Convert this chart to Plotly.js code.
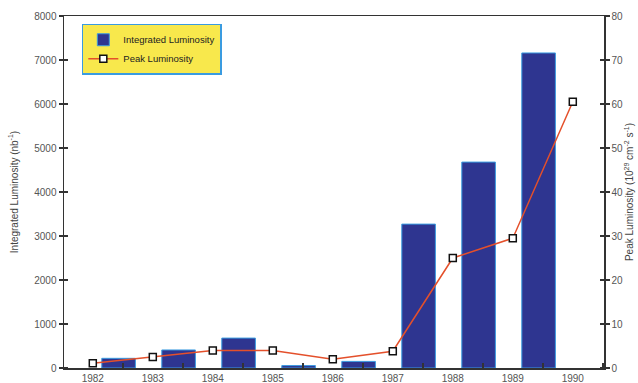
<!DOCTYPE html>
<html>
<head>
<meta charset="utf-8">
<script src="https://cdn.plot.ly/plotly-3.0.1.min.js"></script>
<style>html,body{margin:0;padding:0;background:#fff;}#chart{width:638px;height:383px;}</style>
</head>
<body>
<div id="chart"></div>
<script>
// Data
const barYears = [1982, 1983, 1984, 1985, 1986, 1987, 1988, 1989];
const integratedLumi = [220, 410, 680, 55, 150, 3270, 4680, 7160];
const peakYears = [1982, 1983, 1984, 1985, 1986, 1987, 1988, 1989, 1990];
const peakLumi = [1.1, 2.5, 4.0, 4.0, 2.0, 3.8, 25.0, 29.5, 60.5];
const yearLabels = ['1982', '1983', '1984', '1985', '1986', '1987', '1988', '1989', '1990'];
const leftTicks = [0, 1000, 2000, 3000, 4000, 5000, 6000, 7000, 8000];
const rightTicks = [0, 10, 20, 30, 40, 50, 60, 70, 80];

const FONT = "Liberation Sans Narrow, Arial Narrow, Liberation Sans, Arial, sans-serif";
const AX = '#333333';
const XR = [1981.52, 1990.52];
// tick marks sit midway between year labels (under the bars)
const xTickPos = peakYears.map(y => y + 0.5);

const traces = [
  {
    type: 'bar', name: 'Integrated Luminosity',
    x: barYears, y: integratedLumi,
    yaxis: 'y',
    offset: 0.15, width: 0.56,
    marker: {color: '#2e3590', line: {color: '#3a9be0', width: 1}}
  },
  {
    type: 'scatter', mode: 'lines+markers', name: 'Peak Luminosity',
    x: peakYears, y: peakLumi,
    yaxis: 'y2',
    line: {color: '#e4502b', width: 1.5},
    marker: {symbol: 'square', size: 7, color: '#ffffff', line: {color: '#111111', width: 1.5}}
  }
];

const layout = {
  width: 638, height: 383,
  margin: {l: 64, r: 34, t: 16, b: 15},
  paper_bgcolor: '#ffffff', plot_bgcolor: '#ffffff',
  font: {family: FONT, size: 10, color: '#555555'},
  showlegend: true,
  legend: {
    x: 0.033, y: 0.978, xanchor: 'left', yanchor: 'top',
    bgcolor: '#f8e84c', bordercolor: '#3a9be0', borderwidth: 1.5,
    font: {family: FONT, size: 9.5, color: '#222222'},
    tracegroupgap: 0, itemwidth: 30
  },
  xaxis: {
    range: XR, tickvals: xTickPos, ticktext: yearLabels,
    ticks: 'inside', ticklen: 5, tickwidth: 1.5, tickcolor: AX,
    ticklabelshift: -30, ticklabelstandoff: 0,
    showgrid: false, zeroline: false,
    showline: true, linecolor: AX, linewidth: 1.5, mirror: true,
    tickfont: {family: FONT, size: 10, color: '#555555'}
  },
  yaxis: {
    range: [0, 8000], tickvals: leftTicks, ticks: 'outside', ticklen: 4, tickwidth: 1.5, tickcolor: AX,
    minor: {tickvals: leftTicks.map(v => v + 1), ticks: 'inside', ticklen: 4, tickwidth: 1.5, tickcolor: AX, showgrid: false},
    showgrid: false, zeroline: false, showline: true, linecolor: AX, linewidth: 1.5,
    tickfont: {family: FONT, size: 10, color: '#555555'},
    title: {text: 'Integrated Luminosity (nb<sup>-1</sup>)', font: {family: FONT, size: 10, color: '#444444'}, standoff: 14}
  },
  yaxis2: {
    range: [0, 80], overlaying: 'y', side: 'right', anchor: 'x',
    tickvals: rightTicks, ticks: 'outside', ticklen: 4, tickwidth: 1.5, tickcolor: AX,
    minor: {tickvals: rightTicks.map(v => v + 0.01), ticks: 'inside', ticklen: 4, tickwidth: 1.5, tickcolor: AX, showgrid: false},
    showgrid: false, zeroline: false, showline: true, linecolor: AX, linewidth: 1.5,
    tickfont: {family: FONT, size: 10, color: '#555555'},
    title: {text: 'Peak Luminosity (10<sup>29</sup> cm<sup>-2</sup> s<sup>-1</sup>)', font: {family: FONT, size: 10, color: '#444444'}, standoff: 4}
  }
};

Plotly.newPlot('chart', traces, layout, {displayModeBar: false, staticPlot: true});
</script>
</body>
</html>
